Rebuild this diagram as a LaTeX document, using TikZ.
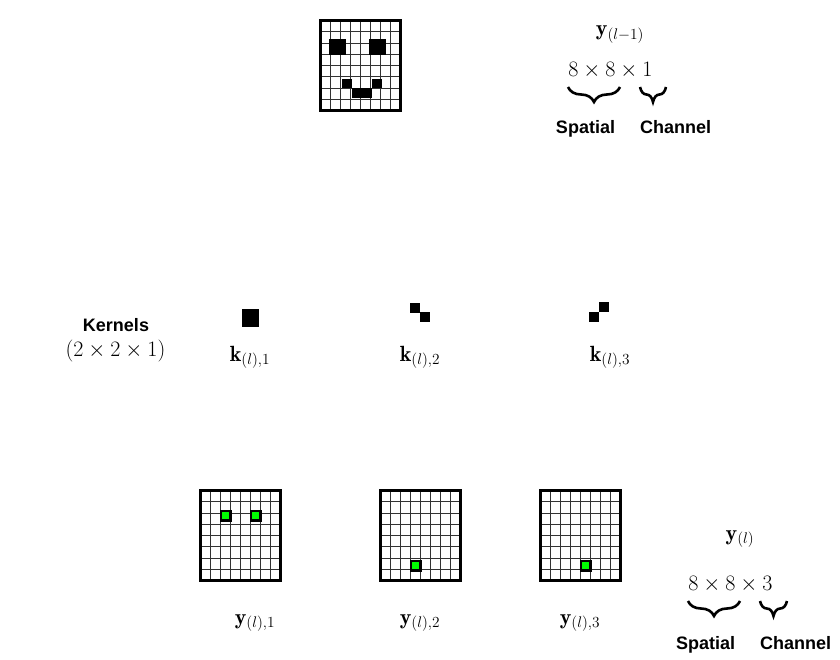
\RequirePackage{fix-cm}
\documentclass[tikz,border=0pt]{standalone}
\usepackage{fontspec}
\setsansfont{Liberation Sans}
\usetikzlibrary{decorations.pathreplacing}
\begin{document}
\begin{tikzpicture}[x=1pt,y=-1pt,
  lbl/.style={font=\sffamily\bfseries\fontsize{18}{20}\selectfont,inner sep=0pt,anchor=base},
  mth/.style={font=\fontsize{22}{26}\selectfont,inner sep=0pt,anchor=base},
  gridline/.style={black!80,line width=0.9pt},
  border/.style={line width=3pt},
  brc/.style={decorate,decoration={brace,amplitude=15pt,mirror},line width=2.6pt},
  greencell/.style={draw=black,line width=2.5pt,fill=green,minimum size=9.5pt,inner sep=0pt},
  pixgrid/.pic={
    \foreach \i in {1,...,7} {
      \draw[gridline] ({10*\i},0) -- ({10*\i},90);
      \draw[gridline] (0,{11.25*\i}) -- (80,{11.25*\i});
    }
    \draw[border] (0,0) rectangle (80,90);
  }]
\useasboundingbox (0,0) rectangle (840,660);

% input image
\pic at (320.5,20.5) {pixgrid};
\fill (329,39) rectangle (346,55);
\fill (369,39) rectangle (386,55);
\fill (342,79) rectangle (352,88);
\fill (372,79) rectangle (382,88);
\fill (352,88) rectangle (372,98);

\node[mth] (yprev) at (620,36) {$\mathbf{y}_{(l-1)}$};
\node[mth] (dimin) at (610.5,77) {$8\times8\times1$};
\coordinate (b1a) at (568,87); \coordinate (b1b) at (620,87);
\coordinate (b2a) at (640,87); \coordinate (b2b) at (666,87);
\draw[brc] (b1a) -- (b1b);
\draw[brc] (b2a) -- (b2b);
\node[lbl] (spin) at (585.5,134) {Spatial};
\node[lbl] (chin) at (675.5,134) {Channel};

% kernels
\node[lbl] (kern) at (116,331) {Kernels};
\node[mth] (kdim) at (115.5,356) {$(2\times2\times1)$};
\fill (242,309) rectangle (259,327);
\fill (410,303) rectangle (420,313);
\fill (420,312) rectangle (430,322);
\fill (599,302) rectangle (609,312);
\fill (589,312) rectangle (599,322);
\node[mth] (k1) at (250,361) {$\mathbf{k}_{(l),1}$};
\node[mth] (k2) at (420,361) {$\mathbf{k}_{(l),2}$};
\node[mth] (k3) at (610,361) {$\mathbf{k}_{(l),3}$};

% outputs
\pic at (200.5,490.5) {pixgrid};
\pic at (380.5,490.5) {pixgrid};
\pic at (540.5,490.5) {pixgrid};
\node[greencell] (g1) at (225.5,515.5) {};
\node[greencell] (g2) at (255.5,515.5) {};
\node[greencell] (g3) at (415.5,565.5) {};
\node[greencell] (g4) at (585.5,565.5) {};

\node[mth] (y1) at (255,624) {$\mathbf{y}_{(l),1}$};
\node[mth] (y2) at (420,624) {$\mathbf{y}_{(l),2}$};
\node[mth] (y3) at (580,624) {$\mathbf{y}_{(l),3}$};

\node[mth] (yout) at (740,540) {$\mathbf{y}_{(l)}$};
\node[mth] (dimout) at (730.5,590) {$8\times8\times3$};
\coordinate (b3a) at (688,601); \coordinate (b3b) at (740,601);
\coordinate (b4a) at (760,601); \coordinate (b4b) at (787,601);
\draw[brc] (b3a) -- (b3b);
\draw[brc] (b4a) -- (b4b);
\node[lbl] (spout) at (705.5,649) {Spatial};
\node[lbl] (chout) at (795.5,649) {Channel};
\end{tikzpicture}
\end{document}
